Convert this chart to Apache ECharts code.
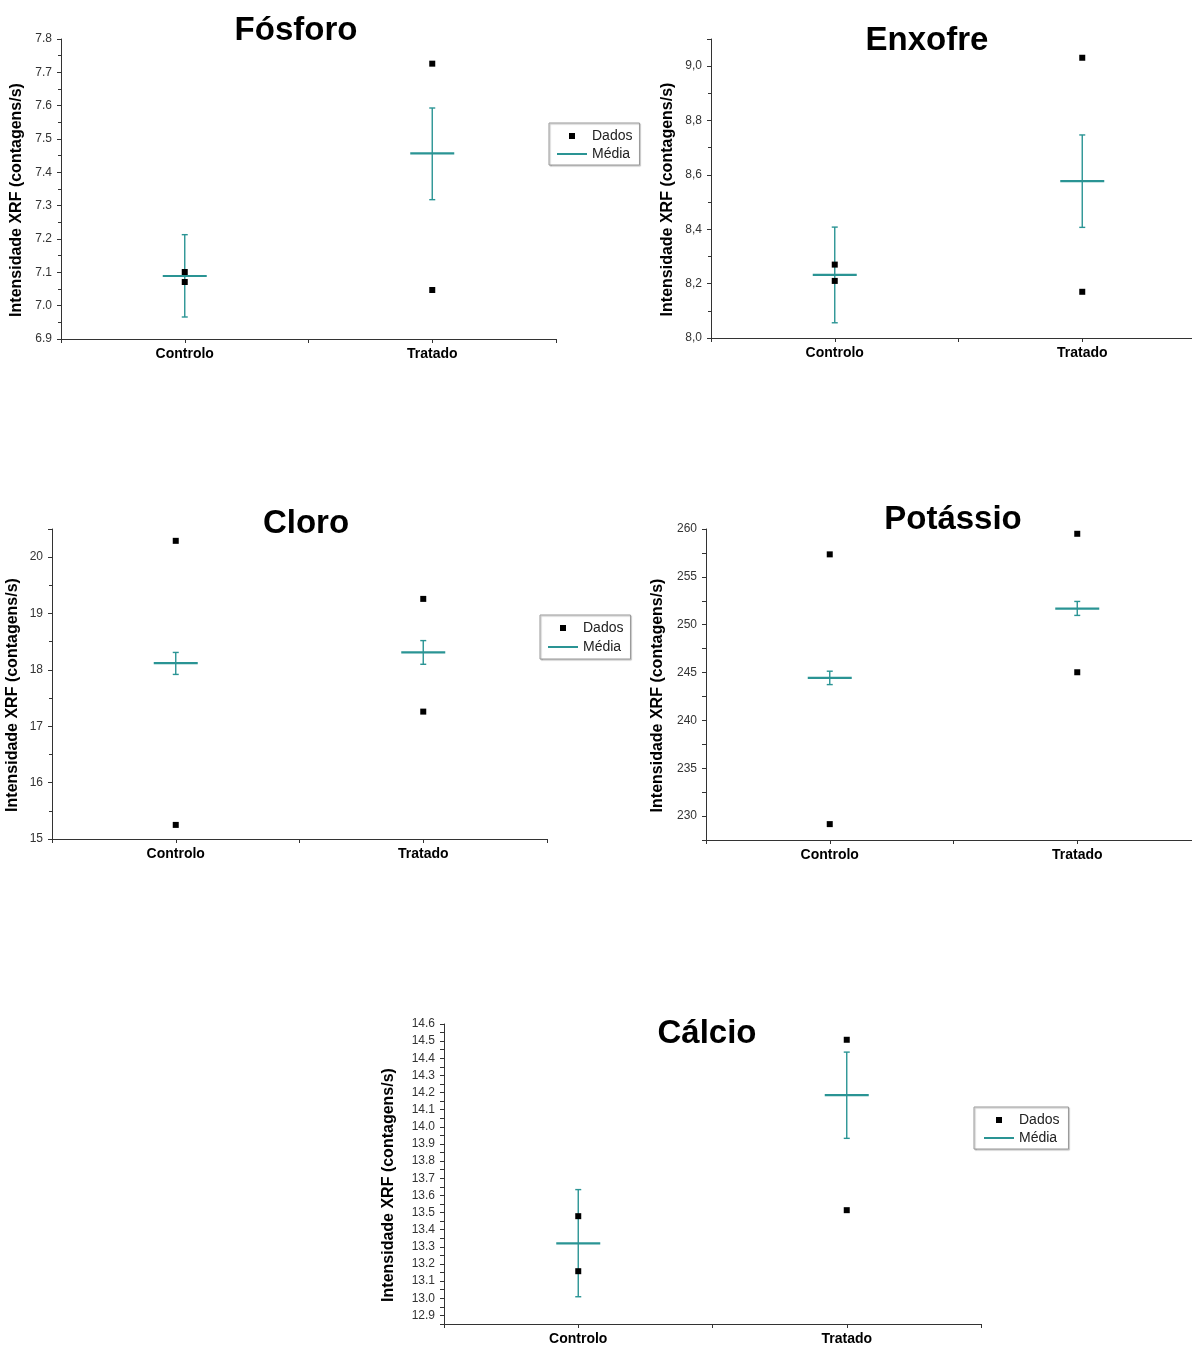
<!DOCTYPE html>
<html>
<head>
<meta charset="utf-8">
<script src="https://cdn.jsdelivr.net/npm/echarts@6/dist/echarts.min.js"></script>
<style>
html,body{margin:0;padding:0;background:#fff;}
#c{width:1192px;height:1349px;}
</style>
</head>
<body>
<div id="c"></div>
<script>
// ---------------- DATA ----------------
const categories = ['Controlo', 'Tratado'];
const legendNames = ['Dados', 'Média'];
const yAxisName = 'Intensidade XRF (contagens/s)';

const fosforoTitle = 'Fósforo';
const fosforoControlo = [7.101, 7.071];
const fosforoTratado = [7.726, 7.047];
const fosforoMedia = [7.089, 7.457];
const fosforoErroMin = [6.966, 7.318];
const fosforoErroMax = [7.213, 7.593];
const fosforoEixo = [6.9, 7.8];          // min, max
const fosforoPassos = [0.1, 0.05];       // label step, minor step

const enxofreTitle = 'Enxofre';
const enxofreControlo = [8.270, 8.210];
const enxofreTratado = [9.031, 8.170];
const enxofreMedia = [8.232, 8.577];
const enxofreErroMin = [8.056, 8.407];
const enxofreErroMax = [8.408, 8.747];
const enxofreEixo = [8.0, 9.1];
const enxofrePassos = [0.2, 0.1];

const cloroTitle = 'Cloro';
const cloroControlo = [20.29, 15.25];
const cloroTratado = [19.26, 17.26];
const cloroMedia = [18.12, 18.31];
const cloroErroMin = [17.92, 18.10];
const cloroErroMax = [18.31, 18.52];
const cloroEixo = [15, 20.5];
const cloroPassos = [1, 0.5];

const potassioTitle = 'Potássio';
const potassioControlo = [257.35, 229.16];
const potassioTratado = [259.5, 245.03];
const potassioMedia = [244.44, 251.68];
const potassioErroMin = [243.74, 250.97];
const potassioErroMax = [245.14, 252.43];
const potassioEixo = [227.5, 260];
const potassioPassos = [5, 2.5];

const calcioTitle = 'Cálcio';
const calcioControlo = [13.479, 13.158];
const calcioTratado = [14.508, 13.514];
const calcioMedia = [13.320, 14.185];
const calcioErroMin = [13.009, 13.933];
const calcioErroMax = [13.634, 14.436];
const calcioEixo = [12.85, 14.6];
const calcioPassos = [0.1, 0.05];

// ---------------- LAYOUT / STYLE ----------------
const FONT = '"Liberation Sans", Arial, Helvetica, sans-serif';
const TEAL = '#2a9494';
const AXIS = '#333';

const panels = [
  {title: fosforoTitle, ctrl: fosforoControlo, trat: fosforoTratado, media: fosforoMedia, lo: fosforoErroMin, hi: fosforoErroMax,
   eixo: fosforoEixo, passos: fosforoPassos, sep: '.',
   grid: {left: 61, top: 39, width: 495, height: 300}, tx: 296, ty: 14, nameGap: 36,
   legend: {left: 549, top: 123, padding: [6, 7, 4, 8], itemGap: 4}},
  {title: enxofreTitle, ctrl: enxofreControlo, trat: enxofreTratado, media: enxofreMedia, lo: enxofreErroMin, hi: enxofreErroMax,
   eixo: enxofreEixo, passos: enxofrePassos, sep: ',',
   grid: {left: 711, top: 39, width: 495, height: 299}, tx: 927, ty: 24, nameGap: 35},
  {title: cloroTitle, ctrl: cloroControlo, trat: cloroTratado, media: cloroMedia, lo: cloroErroMin, hi: cloroErroMax,
   eixo: cloroEixo, passos: cloroPassos, sep: '.',
   grid: {left: 52, top: 529, width: 495, height: 310}, tx: 306, ty: 507, nameGap: 31,
   legend: {left: 540, top: 615, padding: [6, 7, 5, 8], itemGap: 5}},
  {title: potassioTitle, ctrl: potassioControlo, trat: potassioTratado, media: potassioMedia, lo: potassioErroMin, hi: potassioErroMax,
   eixo: potassioEixo, passos: potassioPassos, sep: '.',
   grid: {left: 706, top: 529, width: 495, height: 311}, tx: 953, ty: 503, nameGap: 40},
  {title: calcioTitle, ctrl: calcioControlo, trat: calcioTratado, media: calcioMedia, lo: calcioErroMin, hi: calcioErroMax,
   eixo: calcioEixo, passos: calcioPassos, sep: '.',
   grid: {left: 444, top: 1024, width: 537, height: 300}, tx: 707, ty: 1017, nameGap: 47,
   legend: {left: 974, top: 1107, padding: [6, 9, 4, 10], itemGap: 4}}
];

function isMultiple(v, step) {
  const r = v / step;
  return Math.abs(r - Math.round(r)) < 1e-6;
}

function renderMedia(params, api) {
  const x = api.value(0);
  const pm = api.coord([x, api.value(1)]);
  const pl = api.coord([x, api.value(2)]);
  const ph = api.coord([x, api.value(3)]);
  const half = 22, cap = 3;
  const st = {stroke: TEAL, lineWidth: 1.4};
  return {
    type: 'group',
    children: [
      {type: 'line', shape: {x1: pl[0], y1: pl[1], x2: ph[0], y2: ph[1]}, style: st},
      {type: 'line', shape: {x1: pl[0] - cap, y1: pl[1], x2: pl[0] + cap, y2: pl[1]}, style: st},
      {type: 'line', shape: {x1: ph[0] - cap, y1: ph[1], x2: ph[0] + cap, y2: ph[1]}, style: st},
      {type: 'line', shape: {x1: pm[0] - half, y1: pm[1], x2: pm[0] + half, y2: pm[1]}, style: {stroke: TEAL, lineWidth: 2.2}}
    ]
  };
}

const option = {
  backgroundColor: '#fff',
  animation: false,
  title: [], grid: [], xAxis: [], yAxis: [], series: [], legend: []
};

panels.forEach((p, i) => {
  option.title.push({
    text: p.title, left: p.tx, top: p.ty, textAlign: 'center', padding: 0,
    textStyle: {fontFamily: FONT, fontSize: 33, fontWeight: 'bold', color: '#000'}
  });
  option.grid.push(Object.assign({containLabel: false, outerBoundsMode: 'none'}, p.grid));
  option.xAxis.push({
    type: 'value', gridIndex: i, min: -0.5, max: 1.5, interval: 0.5,
    splitLine: {show: false},
    axisLine: {show: true, onZero: false, lineStyle: {color: AXIS, width: 1}},
    axisTick: {show: true, length: 4, lineStyle: {color: AXIS}},
    axisLabel: {
      margin: 8, fontFamily: FONT, fontSize: 14, fontWeight: 'bold', color: '#000',
      showMinLabel: true, showMaxLabel: true,
      formatter: v => (isMultiple(v, 1) && v >= 0 && v < categories.length) ? categories[Math.round(v)] : ''
    }
  });
  const [mn, mx] = p.eixo;
  const [labStep, minorStep] = p.passos;
  const useMajor = isMultiple(mn, labStep);
  option.yAxis.push({
    type: 'value', gridIndex: i, min: mn, max: mx,
    interval: useMajor ? labStep : minorStep,
    name: yAxisName, nameLocation: 'middle', nameGap: p.nameGap,
    nameTextStyle: {fontFamily: FONT, fontSize: 16, fontWeight: 'bold', color: '#000', padding: [0, 22, 0, 0]},
    splitLine: {show: false},
    axisLine: {show: true, onZero: false, lineStyle: {color: AXIS, width: 1}},
    axisTick: {show: true, length: 4, lineStyle: {color: AXIS}},
    minorTick: {show: useMajor, splitNumber: Math.round(labStep / minorStep), length: 3, lineStyle: {color: AXIS}},
    minorSplitLine: {show: false},
    axisLabel: {
      margin: 9, fontFamily: FONT, fontSize: 12, color: '#333',
      showMinLabel: true, showMaxLabel: true,
      formatter: v => {
        if (!isMultiple(v, labStep)) return '';
        const dec = labStep < 1 ? 1 : 0;
        return v.toFixed(dec).replace('.', p.sep);
      }
    }
  });
  const dados = [];
  p.ctrl.forEach(v => dados.push([0, v]));
  p.trat.forEach(v => dados.push([1, v]));
  option.series.push({
    name: legendNames[0], type: 'scatter', xAxisIndex: i, yAxisIndex: i,
    symbol: 'rect', symbolSize: 6, itemStyle: {color: '#000', opacity: 1}, z: 5,
    data: dados
  });
  option.series.push({
    name: legendNames[1], type: 'custom', xAxisIndex: i, yAxisIndex: i,
    renderItem: renderMedia, itemStyle: {color: TEAL}, z: 3,
    encode: {x: 0, y: 1},
    data: p.media.map((m, k) => [k, m, p.lo[k], p.hi[k]])
  });
  if (p.legend) {
    option.legend.push({
      left: p.legend.left, top: p.legend.top, orient: 'vertical',
      padding: p.legend.padding, itemGap: p.legend.itemGap, itemWidth: 30, itemHeight: 6,
      symbolKeepAspect: true,
      backgroundColor: '#fff', borderColor: '#9a9a9a', borderWidth: 1,
      shadowColor: 'rgba(0,0,0,0.25)', shadowOffsetX: 1, shadowOffsetY: 1, shadowBlur: 1,
      textStyle: {fontFamily: FONT, fontSize: 14, color: '#222', padding: [0, 0, 0, 0]},
      selectedMode: false,
      data: [
        {name: legendNames[0], icon: 'path://M0,0h1v1h-1z', itemStyle: {color: '#000', opacity: 1}},
        {name: legendNames[1], icon: 'path://M0,0h15v1h-15z', itemStyle: {color: TEAL}}
      ]
    });
  }
});

const chart = echarts.init(document.getElementById('c'), null, {renderer: 'canvas', width: 1192, height: 1349});
chart.setOption(option);
</script>
</body>
</html>
